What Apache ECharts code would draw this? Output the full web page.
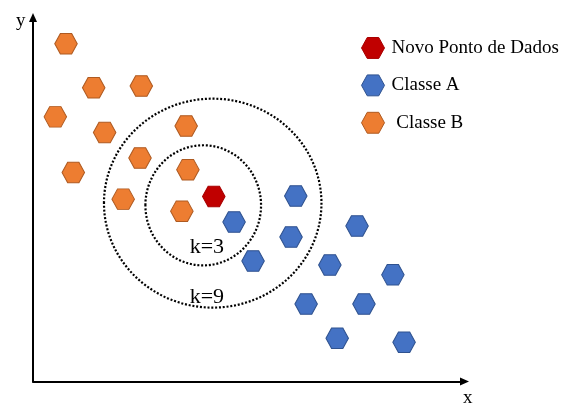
<!DOCTYPE html>
<html>
<head>
<meta charset="utf-8">
<script src="https://cdn.jsdelivr.net/npm/echarts@6/dist/echarts.min.js"></script>
<style>
html,body{margin:0;padding:0;background:#fff;}
#chart{width:562px;height:403px;}
</style>
</head>
<body>
<div id="chart"></div>
<script>
// Data (axis units: x 0-100, y 0-100)
const classeB_x = [7.65, 14.07, 25.1, 5.17, 16.6, 35.5, 9.34, 24.8, 35.9, 20.9, 34.5];
const classeB_y = [92.8, 80.7, 81.2, 72.7, 68.4, 70.2, 57.4, 61.4, 58.2, 50.1, 46.8];
const classeA_x = [46.6, 60.9, 59.8, 51.0, 75.1, 68.8, 83.4, 63.3, 76.7, 70.5, 86.0];
const classeA_y = [43.8, 50.96, 39.7, 33.1, 42.7, 32.0, 29.3, 21.3, 21.3, 11.9, 10.8];
const novo_x = [41.9];
const novo_y = [50.8];
// neighbourhood circles: center x, center y, radius along x, radius along y
const circleK = ['k=3', 'k=9'];
const circleCx = [39.45, 41.65];
const circleCy = [48.4, 49.0];
const circleRx = [13.4, 25.2];
const circleRy = [16.5, 28.7];
const seriesNames = ['Novo Ponto de Dados', 'Classe A', 'Classe B'];
const axisNames = ['x', 'y'];

const zip = (xs, ys) => xs.map((x, i) => [x, ys[i]]);
const HEX = 'path://M0,10 L5.5,0 L16.5,0 L22,10 L16.5,20 L5.5,20 Z';
const SERIF = 'Liberation Serif';

const chart = echarts.init(document.getElementById('chart'), null, {renderer: 'canvas'});
const kLabelAnchors = [[40.3, 36.95], [40.3, 23.2]];

chart.setOption({
  animation: false,
  backgroundColor: '#ffffff',
  grid: {left: 33, right: 97.5, top: 17.5, bottom: 21.5, containLabel: false},
  xAxis: {
    type: 'value', min: 0, max: 100,
    splitLine: {show: false}, axisTick: {show: false}, axisLabel: {show: false},
    axisLine: {show: true, symbol: ['none', 'triangle'], symbolSize: [8, 9],
      lineStyle: {color: '#000', width: 2}}
  },
  yAxis: {
    type: 'value', min: 0, max: 100,
    splitLine: {show: false}, axisTick: {show: false}, axisLabel: {show: false},
    axisLine: {show: true, symbol: ['none', 'triangle'], symbolSize: [8, 9],
      lineStyle: {color: '#000', width: 2}}
  },
  legend: {
    orient: 'vertical', left: 361, top: 37, padding: 0,
    itemWidth: 23, itemHeight: 21, itemGap: 15.5,
    itemStyle: {borderWidth: 1},
    data: [
      {name: seriesNames[0], icon: HEX},
      {name: seriesNames[1], icon: HEX},
      {name: seriesNames[2], icon: HEX}
    ],
    formatter: function (n) { return n === seriesNames[2] ? ' ' + n : n; },
    textStyle: {fontFamily: SERIF, fontSize: 19, color: '#000', lineHeight: 20, padding: [0, 0, 0, 2]}
  },
  graphic: [
    {type: 'text', left: 16, top: 12, style: {text: axisNames[1], font: '19px "Liberation Serif"', fill: '#000'}},
    {type: 'text', left: 463, top: 389, style: {text: axisNames[0], font: '19px "Liberation Serif"', fill: '#000'}}
  ],
  series: [
    {
      type: 'custom', name: 'circles', z: 1, silent: true,
      data: circleK.map((k, i) => [circleCx[i], circleCy[i], circleRx[i], circleRy[i]]),
      renderItem: function (params, api) {
        const c = api.coord([api.value(0), api.value(1)]);
        const s = api.size([api.value(2), api.value(3)]);
        return {
          type: 'ellipse',
          shape: {cx: c[0], cy: c[1], rx: s[0], ry: s[1]},
          style: {fill: 'none', stroke: '#000', lineWidth: 2.2, lineDash: [2, 1.8]}
        };
      }
    },
    {
      type: 'scatter', name: 'kLabels', z: 2, silent: true, symbolSize: 0,
      itemStyle: {color: '#000', opacity: 0},
      data: circleK.map((k, i) => ({value: kLabelAnchors[i], name: k})),
      label: {show: true, position: 'inside', formatter: '{b}',
        fontFamily: SERIF, fontSize: 22, color: '#000', textBorderWidth: 0, opacity: 1}
    },
    {
      type: 'scatter', name: seriesNames[2], z: 3, symbol: HEX, symbolSize: [22.5, 20.5],
      data: zip(classeB_x, classeB_y),
      itemStyle: {color: '#ED7D31', borderColor: '#AE5A21', borderWidth: 1, opacity: 1}
    },
    {
      type: 'scatter', name: seriesNames[1], z: 3, symbol: HEX, symbolSize: [22.5, 20.5],
      data: zip(classeA_x, classeA_y),
      itemStyle: {color: '#4472C4', borderColor: '#2F528F', borderWidth: 1, opacity: 1}
    },
    {
      type: 'scatter', name: seriesNames[0], z: 3, symbol: HEX, symbolSize: [22.5, 20.5],
      data: zip(novo_x, novo_y),
      itemStyle: {color: '#C00000', borderColor: '#A80000', borderWidth: 1, opacity: 1}
    }
  ]
});
</script>
</body>
</html>
